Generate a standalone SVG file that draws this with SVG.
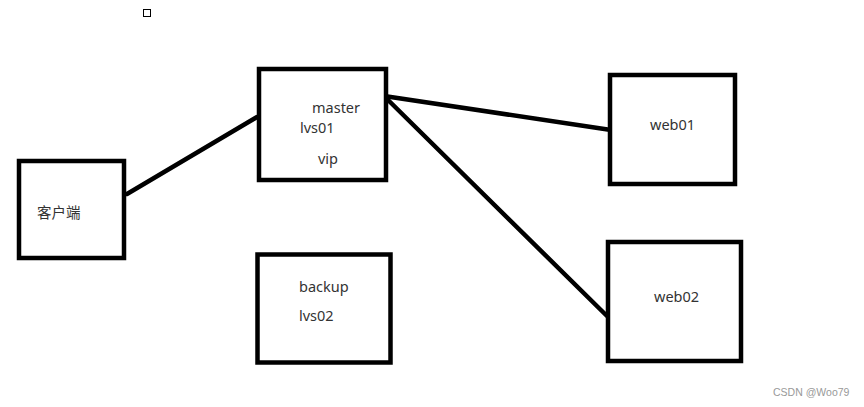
<svg xmlns="http://www.w3.org/2000/svg" width="864" height="407" viewBox="0 0 864 407">
<style>
.box{fill:#fff;stroke:#000;stroke-width:4.5}
.t{font-family:"Noto Sans","Open Sans","Noto Sans CJK SC",sans-serif;font-size:14.5px;fill:#333}
.c{stroke:#000;stroke-width:4.5;stroke-linecap:round;fill:none}
</style>
<rect width="864" height="407" fill="#fff"/>
<rect x="143.5" y="9.5" width="7" height="7" fill="none" stroke="#000" stroke-width="1"/>
<g id="connectors">
<line class="c" x1="127" y1="194" x2="257" y2="117"/>
<line class="c" x1="384" y1="96" x2="611" y2="130"/>
<line class="c" x1="384" y1="96" x2="607" y2="316"/>
</g>
<g id="client">
<rect class="box" x="19" y="161" width="105" height="97"/>
<text class="t" x="37" y="218" style="font-family:'Noto Sans CJK SC',sans-serif">客户端</text>
</g>
<g id="master">
<rect class="box" x="259" y="69" width="127" height="111"/>
<text class="t" x="312" y="113">master</text>
<text class="t" x="300" y="133">lvs01</text>
<text class="t" x="318" y="164">vip</text>
</g>
<g id="backup">
<rect class="box" x="257.5" y="254.5" width="133" height="108"/>
<text class="t" x="299" y="292">backup</text>
<text class="t" x="299" y="321">lvs02</text>
</g>
<g id="web01">
<rect class="box" x="610" y="75" width="125" height="109"/>
<text class="t" x="650" y="130">web01</text>
</g>
<g id="web02">
<rect class="box" x="608" y="242" width="133" height="119"/>
<text class="t" x="654" y="302">web02</text>
</g>
<text x="773" y="396" style="font-family:'Liberation Sans',sans-serif;font-size:10.5px;fill:#999">CSDN @Woo79</text>
</svg>
